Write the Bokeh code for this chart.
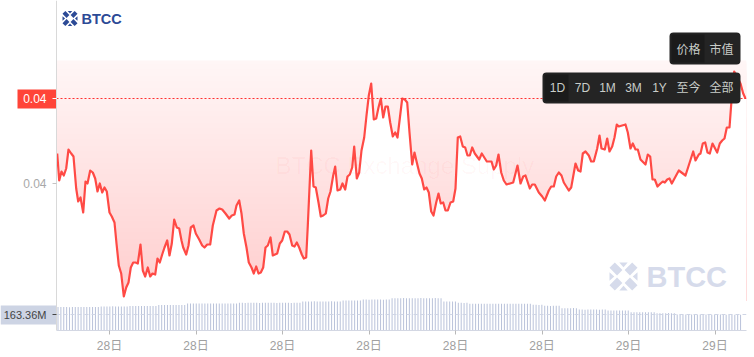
from bokeh.plotting import figure
from bokeh.models import (BoxAnnotation, FixedTicker, Label, LinearAxis, Range1d)
from bokeh.embed import file_html
from bokeh.resources import INLINE
from bokeh.core.properties import value

# time position (one unit = one sample step on the page scale) and price in 1e-5 USD
time_pos = [0.7,2.7,5,7.3,9.7,12,14.7,17,19.7,21.7,24,26.7,29,31,33.7,36.3,38.7,41,43.3,45.7,48,50.3,53,55.3,58,60,
    62.3,64.7,67.3,69.7,72,74.3,76.7,79,81.3,84,86.3,88.7,91.3,93.7,96,98.7,101,103.3,105.7,108,110.7,113,115.3,117.7,
    120.3,122.7,125,126.7,129.7,132,134.3,137,139.3,142.7,145.7,148,150.7,153.7,156.3,160,163,165.7,169,172.7,175.3,178,
    180,182.7,185,187.3,190,192.3,195,197.3,199.7,202,204.3,206.7,209,211.3,214,216.3,220.7,223.3,225.7,228.3,230.7,233,
    235.7,238,240.3,242.7,245.3,247.3,249.7,251.3,254.7,257,259.3,262,264.3,266.7,269.3,271.7,274,276.7,278.7,281,283.7,
    286,288.7,291,293.3,295.7,297.7,300.3,302.7,305,307.7,310,312.3,314.7,317.3,319.7,322,324.3,326.7,329,331.3,333.7,
    336.3,338.7,341,343.3,345.7,348.3,350.7,353,355.7,358,360.3,363,365.3,367.7,370,372.3,374.7,377,379.7,382,384.3,386.7,
    389,391.3,394,396.7,399,401.3,403.7,406.3,408.7,411,413.3,415.7,418.3,422.7,425.3,430.3,435,437.3,439.7,442,444.7,
    447.3,450,456.7,461,464,466.7,469,473.3,475.7,478.3,482.3,485.7,488.3,492.3,494.7,497.3,499.7,502.3,505,507.3,512.3,
    514.7,519,521.7,524,526.3,529,532.3,534.7,537.3,540.7,543,545,548.3,550.7,553,555.7,558,560.3,562.3,569,571.3,574,
    576.3,579,581.3,584,589,591.3,593.7,596,598.3,601,604,606.3,608.3,610.7,613,615.3,622.3,629,636.7,639,642.3,644,646.3,
    648.7,651,653.3,656,660.7,663.3,665.7,668,670.3,673,675,677.7,684,686.7,689]
price = [4030,4003,4012,4008,4015,4034,4030,4027,3995,3982,3986,3971,4002,4000,4013,4011,4005,3992,4000,3991,3996,3992,3971,3967,3961,3940,
    3918,3910,3887,3896,3901,3916,3921,3921,3920,3939,3913,3907,3916,3907,3910,3909,3925,3921,3929,3936,3943,3928,3940,3964,
    3956,3955,3943,3936,3929,3938,3956,3958,3950,3944,3938,3936,3939,3939,3958,3973,3975,3974,3970,3965,3968,3969,
    3978,3983,3970,3950,3936,3921,3916,3910,3917,3910,3911,3916,3936,3938,3946,3928,3930,3940,3943,3952,3952,3949,
    3938,3937,3941,3936,3929,3925,3926,3958,4033,3997,3996,3981,3967,3968,3970,3985,3992,4008,4017,3993,3994,
    4000,3994,4007,4009,4016,4037,4005,4011,4033,4046,4068,4088,4100,4064,4065,4076,4085,4066,4077,4077,4061,
    4047,4051,4046,4065,4085,4084,4081,4051,4019,4031,4021,4010,4005,3994,3996,3991,3972,3968,3981,3990,3980,3981,
    3973,3973,3981,3982,3995,4046,4047,4037,4036,4028,4028,4036,4030,4024,4030,4022,4022,4014,4018,4029,4011,
    4003,3999,4001,4018,4000,4007,4008,3995,3999,3999,3991,3987,3983,3993,3997,3997,4007,4011,4008,4001,3993,
    3996,4020,4013,4012,4030,4032,4028,4022,4022,4035,4048,4035,4034,4045,4032,4037,4046,4059,4057,4059,4051,4035,
    4040,4034,4034,4024,4019,4029,4027,4004,4004,3997,4000,4002,4001,4004,4005,4000,4013,4008,4032,4023,4029,4030,4040,
    4041,4031,4030,4040,4031,4040,4043,4045,4056,4056,4083,4112,4100,4090,4085]

# traded volume in millions, one bar per step
volume = [244,244,245,244,243,244,245,244,244,245,244,245,244,244,245,
    250,250,249,250,251,250,250,249,250,250,
    255,255,254,255,256,255,255,254,255,255,
    265,265,264,265,266,265,265,264,265,265,
    281,281,280,281,282,281,281,280,281,281,282,281,280,281,281,282,281,281,
    288,288,287,288,289,288,288,287,288,288,289,288,288,287,288,289,288,288,287,288,288,289,
    302,302,301,302,303,302,302,301,302,302,303,302,302,301,
    312,312,311,312,313,312,312,
    322,322,321,322,323,322,322,321,322,322,
    336,336,335,336,337,336,336,335,336,336,337,336,335,336,336,337,336,336,
    302,302,301,302,302,
    288,288,287,288,
    278,278,277,278,279,278,278,277,278,278,279,278,278,277,278,279,278,278,277,278,278,279,
    267,267,266,267,
    257,257,256,257,258,257,
    232,232,231,232,233,232,
    218,218,217,218,219,218,218,217,218,218,
    208,208,207,208,209,208,208,207,
    190,190,189,190,191,190,190,189,190,
    180,180,179,180,181,180,180,
    166,166,165,166,167,166,166,165,166,166,167,166,165,166,166,167,166,165,166,165,164,164,163.36]

x_tick_pos = [53,139.5,226,312.5,399,485.5,572,658.5]
x_tick_text = ["28日","28日","28日","28日","28日","28日","29日","29日"]
price_tick_gray = 4000
price_last = 4085
volume_level = 3869
ranges_text = ["1D","7D","1M","3M","1Y","至今","全部"]
ranges_x = [501,526,551,577,603,632,665]
modes_text = ["价格","市值"]
modes_x = [632,665]

FONT = "Liberation Sans, Noto Sans CJK SC"
CJK = "Noto Sans CJK SC"

p = figure(width=754, height=357, output_backend="svg", toolbar_location=None,
           x_range=Range1d(-56, 690), y_range=Range1d(3853, 4183),
           x_axis_location=None, y_axis_location=None,
           min_border_left=0, min_border_right=8, min_border_top=0, min_border_bottom=27)
p.outline_line_color = None
p.grid.visible = False
p.background_fill_color = "white"
p.extra_y_ranges = {"vol": Range1d(0, 3432)}

# axes
xa = LinearAxis(ticker=FixedTicker(ticks=x_tick_pos), bounds=(0, 690),
                major_label_overrides={t: s for t, s in zip(x_tick_pos, x_tick_text)},
                major_label_text_color="#a0a0a0", major_label_text_font_size="12px",
                major_label_text_font=FONT, major_label_standoff=4,
                axis_line_color="#d3d7e3", major_tick_line_color="#b8b8b8",
                major_tick_out=4, major_tick_in=0, minor_tick_line_color=None)
p.add_layout(xa, "below")


def left_axis(tick, label, label_color, tick_color, line_color, size="12px"):
    a = LinearAxis(fixed_location=0, ticker=FixedTicker(ticks=[tick]),
                   major_label_overrides={tick: label},
                   major_label_text_color=label_color, major_label_text_font_size=size,
                   major_label_text_font=FONT, major_label_standoff=6,
                   axis_line_color=line_color, major_tick_line_color=tick_color,
                   major_tick_out=4, major_tick_in=0, minor_tick_line_color=None)
    p.add_layout(a, "left")


# left value tags go under the axes drawn on them
p.add_layout(BoxAnnotation(left=-39, right=0, top=4094, bottom=4075, fill_color="#ff4438", fill_alpha=1,
                           line_color=None, level="underlay"))
p.add_layout(BoxAnnotation(left=-56, right=0, top=3878, bottom=3859, fill_color="#cdd4e4", fill_alpha=1,
                           line_color=None, level="underlay"))
left_axis(price_tick_gray, "0.04", "#a8a8a8", "#c4c4c4", "#d9d9d9")
left_axis(price_last, "0.04", "#ffffff", "#ffffff", None)
left_axis(volume_level, "163.36M", "#444444", "#444444", None, size="11px")

# gradient over the line, then white beneath the line; each strip overlaps the next
levels = list(range(4123, 3883, -1))
strip_colors = []
for i, lv in enumerate(levels):
    t = i / (len(levels) - 1)
    g = int(round(246 - 41 * t))
    strip_colors.append("#ff%02x%02x" % (g, g))
p.quad(left=0, right=690, top=[l for l in levels], bottom=[3883 for l in levels],
       fill_color=strip_colors, line_color=None)
p.varea(x=[0] + time_pos + [690], y1=[price[0]] + price + [price[-1]], y2=3882, fill_color="white")

# faint centre watermark
p.text(x=[219], y=[4018], text=["BTCC Exchange Supply"], text_color="#ff2020", text_alpha=0.035,
       text_font=value("Liberation Sans"), text_font_size="24px", text_baseline="middle")

# volume
p.vbar(x=[1.5 + 2.88 * i for i in range(len(volume))], top=volume, bottom=0, width=1,
       fill_color="#b9c2da", line_color=None, y_range_name="vol")
p.segment(x0=[0], x1=[690], y0=[volume_level], y1=[volume_level], line_color="#cfd5e5", line_width=1, line_dash="4 3")

# price
p.line(time_pos, price, line_color="#ff4a45", line_width=2.2, line_join="round")
p.segment(x0=[0], x1=[690], y0=[price_last], y1=[price_last], line_color="#ff3030", line_width=1, line_dash="2 2")


def logo(cx, cy, r, color):
    shape = [(-1, -0.62), (-0.62, -1), (-0.08, -0.46), (-0.46, -0.08)]
    xs, ys = [], []
    for sx, sy in [(1, 1), (-1, 1), (1, -1), (-1, -1)]:
        xs.append([cx + sx * a * r for a, b in shape])
        ys.append([cy + sy * b * r for a, b in shape])
    hats = [(-0.3, -1), (0.3, -1), (0, -0.66)]
    for rot in range(4):
        px, py = [], []
        for a, b in hats:
            for _ in range(rot):
                a, b = -b, a
            px.append(cx + a * r)
            py.append(cy + b * r)
        xs.append(px)
        ys.append(py)
    p.patches(xs, ys, fill_color=color, line_color=None)


logo(13.5, 4165, 7.5, "#2c4a96")
p.text(x=[25], y=[4165], text=["BTCC"], text_color="#2c4a96", text_font=value("Liberation Sans"),
       text_font_style="bold", text_font_size="14.5px", text_baseline="middle")
logo(567, 3907, 14, "#d6dbeb")
p.text(x=[590], y=[3907], text=["BTCC"], text_color="#d6dbeb", text_font=value("Liberation Sans"),
       text_font_style="bold", text_font_size="29px", text_baseline="middle")

# control panels
p.add_layout(BoxAnnotation(left=613, right=684, top=4151, bottom=4119, fill_color="#242424", fill_alpha=1, line_color=None, border_radius=4))
p.add_layout(BoxAnnotation(left=615, right=648, top=4149, bottom=4121, fill_color="#1b1b1b", fill_alpha=1, line_color=None))
p.add_layout(BoxAnnotation(left=486, right=684, top=4111, bottom=4080, fill_color="#242424", fill_alpha=1, line_color=None, border_radius=4))
p.add_layout(BoxAnnotation(left=488, right=512, top=4109, bottom=4082, fill_color="#1b1b1b", fill_alpha=1, line_color=None))
for t, xp in zip(modes_text, modes_x):
    p.add_layout(Label(x=xp, y=4135, text=t, text_color="#c9cdc9", text_font=CJK, text_font_size="12px",
                       text_align="center", text_baseline="middle"))
for t, xp in zip(ranges_text, ranges_x):
    p.add_layout(Label(x=xp, y=4095.5, text=t, text_color="#c9cdc9", text_font=FONT, text_font_size="12px",
                       text_align="center", text_baseline="middle"))

open("out.html", "w").write(file_html(p, INLINE))
